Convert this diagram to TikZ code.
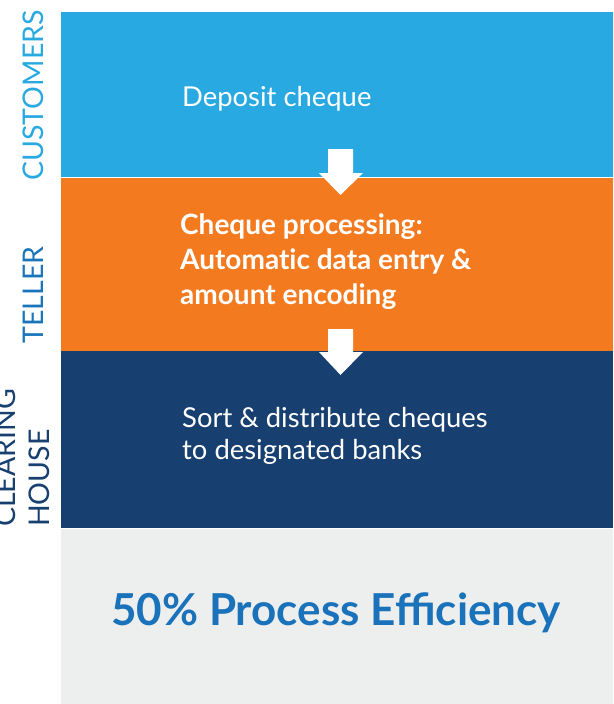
\documentclass[tikz,border=0pt]{standalone}
\usepackage{fontspec}
\setmainfont{Lato}
\definecolor{cblue}{HTML}{29A9E1}
\definecolor{corange}{HTML}{F47A20}
\definecolor{cnavy}{HTML}{173F70}
\definecolor{cgray}{HTML}{EDEFEE}
\definecolor{ctext}{HTML}{1A72BA}
\definecolor{cteller}{HTML}{1B75BB}
\begin{document}
\begin{tikzpicture}[x=1pt,y=-1pt,
  band/.style={draw=none,rectangle,inner sep=0,outer sep=0,anchor=north west},
  bodytext/.style={inner sep=0,anchor=base west,text=white,font=\fontsize{27.4}{32}\selectfont},
  lanelabel/.style={inner sep=0,rotate=90,anchor=base west,font=\fontsize{28.5}{34}\selectfont},
  blockarrow/.style={fill=white,draw=none}]
\useasboundingbox (0,0) rectangle (613,704);
\node[band,fill=cblue,minimum width=552pt,minimum height=165pt] (b1) at (61,12) {};
\node[band,fill=corange,minimum width=552pt,minimum height=173pt] (b2) at (61,178) {};
\node[band,fill=cnavy,minimum width=552pt,minimum height=177pt] (b3) at (61,351) {};
\node[band,fill=cgray,minimum width=552pt,minimum height=176pt] (b4) at (61,528.5) {};
% block arrows between the bands
\fill[blockarrow] (328,149) -- (353,149) -- (353,173) -- (363,173) -- (340.5,195) -- (319,173) -- (328,173) -- cycle;
\fill[blockarrow] (328,329) -- (353,329) -- (353,352) -- (363,352) -- (340.5,375) -- (319,352) -- (328,352) -- cycle;
% texts
\node[bodytext] (t1) at (182,106) {Deposit cheque};
\node[inner sep=0,anchor=north west,align=left,text=white,font=\fontsize{28}{35}\bfseries\addfontfeatures{Ligatures=NoCommon}\selectfont] (t2) at (180,213) {Cheque processing:\\Automatic data entry \&\\amount encoding};
\node[inner sep=0,anchor=north west,align=left,text=white,font=\fontsize{27.4}{32}\selectfont] (t3) at (182,407.5) {Sort \& distribute cheques\\to designated banks};
\node[inner sep=0,anchor=base west,text=ctext,font=\fontsize{44}{50}\bfseries\selectfont] (t4) at (111,625) {50\% Process Efficiency};
% lane labels
\node[lanelabel,text=cblue,anchor=base] (l1) at (43,95.5) {CUSTOMERS};
\node[lanelabel,text=cteller,anchor=base] (l2) at (43,295) {TELLER};
\node[lanelabel,text=cnavy] (l3) at (15,527) {CLEARING};
\node[lanelabel,text=cnavy] (l4) at (49,527) {HOUSE};
\end{tikzpicture}
\end{document}
